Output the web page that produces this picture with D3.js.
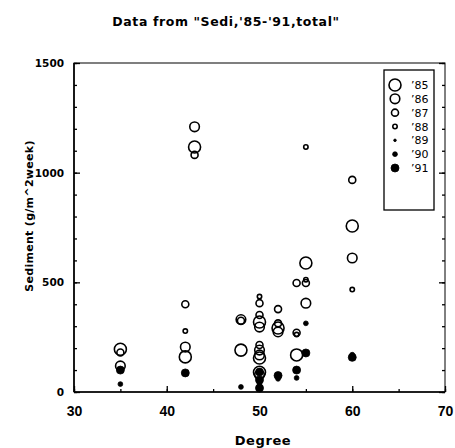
<!DOCTYPE html>
<html>
<head>
<meta charset="utf-8">
<script src="https://cdn.jsdelivr.net/npm/d3@7"></script>
<style>
  body { margin: 0; background: #fff; }
  svg { display: block; }
  .tick line { stroke: #000; }
  .domain { stroke: none; }
</style>
</head>
<body>
<div id="chart"></div>
<script>
// series, one list of [degree, sediment] per year
const years = ["'85", "'86", "'87", "'88", "'89", "'90", "'91"];
const y85 = [[35, 195], [42, 160], [43, 1117], [48, 191], [50, 319], [50, 155], [50, 90], [52, 292], [54, 169], [55, 588], [60, 757]];
const y86 = [[35, 119], [42, 205], [43, 1209], [48, 330], [50, 296], [50, 191], [50, 169], [50, 78], [52, 274], [55, 405], [60, 611]];
const y87 = [[35, 180], [42, 400], [43, 1081], [48, 325], [50, 351], [50, 214], [50, 405], [52, 378], [52, 313], [54, 270], [54, 497], [55, 497], [60, 967]];
const y88 = [[42, 278], [50, 435], [54, 262], [55, 1117], [55, 512], [60, 467]];
const y89 = [[50, 10], [50, 28]];
const y90 = [[35, 36], [48, 23], [50, 40], [52, 60], [54, 64], [55, 313], [60, 170]];
const y91 = [[35, 100], [42, 87], [50, 91], [50, 55], [50, 18], [52, 75], [54, 100], [55, 178], [60, 158]];
const series = [y85, y86, y87, y88, y89, y90, y91];

const xTicks = [30, 40, 50, 60, 70];
const yTicks = [0, 500, 1000, 1500];

// marker look per year
const symbolStyle = [
    { r: 6, filled: false },
    { r: 4.8, filled: false },
    { r: 3.5, filled: false },
    { r: 2.2, filled: false },
    { r: 1.3, filled: true },
    { r: 2.4, filled: true },
    { r: 4, filled: true }
];

const width = 455, height = 448;
const margin = { top: 63, right: 10, bottom: 56, left: 74 };

const svg = d3.select("#chart").append("svg")
    .attr("width", width)
    .attr("height", height);

const x = d3.scaleLinear().domain([30, 70]).range([margin.left, width - margin.right]);
const y = d3.scaleLinear().domain([0, 1500]).range([height - margin.bottom, margin.top]);

const fontB = "'DejaVu Sans', sans-serif";

// title
svg.append("text")
    .attr("x", 226).attr("y", 26)
    .attr("text-anchor", "middle")
    .style("font-family", fontB).style("font-weight", "bold")
    .style("font-size", "12.5px").style("letter-spacing", "0.6px")
    .text("Data from \"Sedi,'85-'91,total\"");

// frame
svg.append("rect")
    .attr("x", x(30)).attr("y", y(1500))
    .attr("width", x(70) - x(30)).attr("height", y(0) - y(1500))
    .attr("fill", "none").attr("stroke", "#000").attr("stroke-width", 1);
svg.append("line")
    .attr("x1", x(30)).attr("x2", x(30)).attr("y1", y(0)).attr("y2", y(1500))
    .attr("stroke", "#000").attr("stroke-width", 1.6);
svg.append("line")
    .attr("x1", x(30)).attr("x2", x(70)).attr("y1", y(0)).attr("y2", y(0))
    .attr("stroke", "#000").attr("stroke-width", 1.6);

// minor ticks
const xMinor = d3.range(30, 71, 5);
const yMinor = d3.range(0, 1501, 100);

svg.append("g").attr("transform", `translate(0,${y(0)})`)
    .call(d3.axisBottom(x).tickValues(xMinor).tickSizeInner(-3).tickSizeOuter(0).tickFormat(""));
svg.append("g").attr("transform", `translate(${x(30)},0)`)
    .call(d3.axisLeft(y).tickValues(yMinor).tickSizeInner(-3).tickSizeOuter(0).tickFormat(""));
svg.append("g").attr("transform", `translate(${x(70)},0)`)
    .call(d3.axisRight(y).tickValues(yMinor).tickSizeInner(-3).tickSizeOuter(0).tickFormat(""));

// major ticks + labels
const xAxis = svg.append("g").attr("transform", `translate(0,${y(0)})`)
    .call(d3.axisBottom(x).tickValues(xTicks).tickSizeInner(-6).tickSizeOuter(0).tickPadding(14).tickFormat(d3.format("d")));
xAxis.selectAll("text")
    .style("font-family", "'Liberation Sans', sans-serif").style("font-weight", "bold")
    .style("font-size", "14px").attr("fill", "#000");

const yAxis = svg.append("g").attr("transform", `translate(${x(30)},0)`)
    .call(d3.axisLeft(y).tickValues(yTicks).tickSizeInner(-6).tickSizeOuter(0).tickPadding(10).tickFormat(d3.format("d")));
yAxis.selectAll("text")
    .style("font-family", fontB).style("font-weight", "bold")
    .style("font-size", "10.5px").attr("fill", "#000");

svg.append("g").attr("transform", `translate(${x(70)},0)`)
    .call(d3.axisRight(y).tickValues(yTicks).tickSizeInner(-6).tickSizeOuter(0).tickFormat(""));
svg.selectAll(".tick line").attr("stroke-width", 1.3);

// axis titles
svg.append("text")
    .attr("x", 263).attr("y", 445)
    .attr("text-anchor", "middle")
    .style("font-family", fontB).style("font-weight", "bold")
    .style("font-size", "13px").style("letter-spacing", "0.6px")
    .text("Degree");

svg.append("text")
    .attr("transform", "translate(33,216) rotate(-90)")
    .attr("text-anchor", "middle")
    .style("font-family", fontB).style("font-weight", "bold")
    .style("font-size", "11px").style("letter-spacing", "0.3px")
    .text("Sediment (g/m^2week)");

// points
series.forEach((pts, i) => {
    const st = symbolStyle[i];
    svg.append("g").attr("class", "year-" + i)
        .selectAll("circle")
        .data(pts)
        .join("circle")
        .attr("cx", d => x(d[0]))
        .attr("cy", d => y(d[1]))
        .attr("r", st.r)
        .attr("fill", st.filled ? "#000" : "none")
        .attr("stroke", "#000")
        .attr("stroke-width", st.filled ? 0.8 : 1.6);
});

// legend
const legend = svg.append("g");
legend.append("rect")
    .attr("x", 384).attr("y", 70).attr("width", 50).attr("height", 140)
    .attr("fill", "#fff").attr("stroke", "#000").attr("stroke-width", 1.3);

const ly = d3.scalePoint().domain(years).range([85, 168]);
years.forEach((yr, i) => {
    const st = symbolStyle[i];
    legend.append("circle")
        .attr("cx", 395).attr("cy", ly(yr)).attr("r", st.r)
        .attr("fill", st.filled ? "#000" : "none")
        .attr("stroke", "#000")
        .attr("stroke-width", st.filled ? 0.8 : 1.6);
    legend.append("text")
        .attr("x", 411).attr("y", ly(yr) + 4)
        .style("font-family", "'DejaVu Sans', sans-serif")
        .style("font-size", "11px")
        .text(yr.replace("'", "\u2019"));
});
</script>
</body>
</html>
